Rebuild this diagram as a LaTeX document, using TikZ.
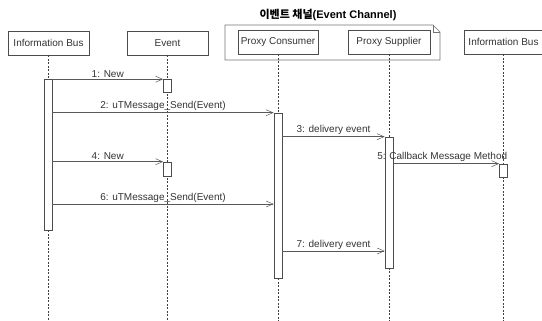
\documentclass[tikz,border=0pt]{standalone}
\usepackage{fontspec}
\setmainfont{Liberation Sans}
\newfontfamily\krfont{Noto Sans CJK KR}
\usetikzlibrary{arrows.meta}

\begin{document}
\begin{tikzpicture}[x=1pt,y=-1pt,
  every node/.style={font=\fontsize{10}{12}\selectfont, text=black!80},
  objbox/.style={draw=black!70, line width=0.6pt, minimum height=24pt,
                 inner sep=0pt, fill=white},
  lifeline/.style={draw=black!75, line width=0.6pt, dash pattern=on 2pt off 1.5pt},
  actbox/.style={draw=black!70, line width=0.6pt, fill=white, minimum width=8pt,
                 inner sep=0pt},
  msg/.style={draw=black!65, line width=0.6pt,
              -{Straight Barb[length=7pt,width=6pt,line width=0.5pt]}},
  msglabel/.style={midway, above=1.5pt, inner sep=0pt}
]
\useasboundingbox (0,0) rectangle (542,321);

% package frame of the event channel, with a folded corner
\draw[draw=black!55, line width=0.6pt]
  (225,25) -- (433,25) -- (440,32) -- (440,60) -- (225,60) -- cycle;
\draw[draw=black!55, line width=0.6pt] (433,25) -- (433,32) -- (440,32);
\node[font=\fontsize{11}{13}\selectfont, text=black] (title) at (328,15)
  {{\krfont\bfseries 이벤트 채널}\bfseries(Event Channel)};

% objects
\node[objbox, minimum width=81pt] (ibL) at (48.5,43) {Information Bus};
\node[objbox, minimum width=81pt] (ev)  at (167.5,43) {Event};
\node[objbox, minimum width=80pt] (pc)  at (278,42) {Proxy Consumer};
\node[objbox, minimum width=82pt] (ps)  at (389,42) {Proxy Supplier};
\node[objbox, minimum width=78pt] (ibR) at (503.5,42) {Information Bus};

% lifelines
\coordinate (bot) at (0,321);
\draw[lifeline] (ibL.south) -- (ibL.south |- bot);
\draw[lifeline] (ev.south)  -- (ev.south |- bot);
\draw[lifeline] (pc.south)  -- (pc.south |- bot);
\draw[lifeline] (ps.south)  -- (ps.south |- bot);
\draw[lifeline] (ibR.south) -- (ibR.south |- bot);

% activation bars
\node[actbox, minimum height=151pt] (aL)  at (48,154.5) {};
\node[actbox, minimum height=13pt]  (aE1) at (167.5,86) {};
\node[actbox, minimum height=14pt]  (aE2) at (167.5,169) {};
\node[actbox, minimum height=165pt] (aPC) at (278,195.5) {};
\node[actbox, minimum height=131pt] (aPS) at (389,202.5) {};
\node[actbox, minimum height=13pt]  (aR)  at (503.5,170.5) {};

% message rows without their own activation start
\coordinate (m6) at (0,204);
\coordinate (m7) at (0,251);

% messages
\draw[msg] (aL.east |- aE1.north) -- (aE1.north west)
  node[msglabel] {1: New};
\draw[msg] (aL.east |- aPC.north) -- (aPC.north west)
  node[msglabel] {2: uTMessage\_Send(Event)};
\draw[msg] (aPC.east |- aPS.north) -- (aPS.north west)
  node[msglabel] {3: delivery event};
\draw[msg] (aL.east |- aE2.north) -- (aE2.north west)
  node[msglabel] {4: New};
\draw[msg] (aPS.east |- aR.north) -- (aR.north west)
  node[msglabel, xshift=-4pt] {5: Callback Message Method};
\draw[msg] (aL.east |- m6) -- (aPC.west |- m6)
  node[msglabel] {6: uTMessage\_Send(Event)};
\draw[msg] (aPC.east |- m7) -- (aPS.west |- m7)
  node[msglabel] {7: delivery event};
\end{tikzpicture}
\end{document}
